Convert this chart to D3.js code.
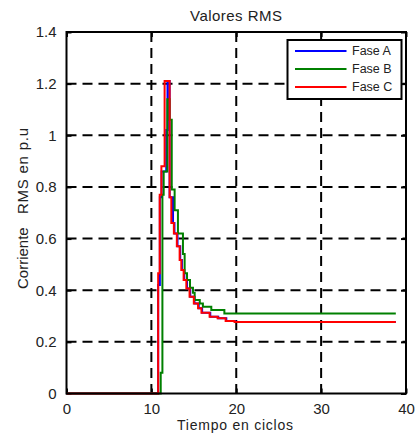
<!DOCTYPE html>
<html><head><meta charset="utf-8">
<script src="https://cdn.jsdelivr.net/npm/d3@7"></script>
<style>body{margin:0;background:#fff;} svg{display:block;} text{font-family:"Liberation Sans",Arial,sans-serif;fill:#222;}</style>
</head><body>
<svg id="chart" width="418" height="437"></svg>
<script>
// ---- data ----
const xTicks = [0, 10, 20, 30, 40];
const yTicks = [0, 0.2, 0.4, 0.6, 0.8, 1, 1.2, 1.4];
const seriesNames = ["Fase A", "Fase B", "Fase C"];
const seriesColors = ["#0000ff", "#008000", "#ff0000"];
// Fase A (blue)
const tA = [0, 10.8, 11.0, 11.2, 11.75, 11.9, 12.15, 12.55, 12.72, 13.08, 13.4, 13.6, 13.88, 14.2, 14.58, 15.08, 15.58, 15.98, 16.94, 17.88, 18.83, 19.88, 38.8];
const vA = [0, 0.42, 0.76, 0.86, 1.02, 1.21, 0.76, 0.66, 0.62, 0.57, 0.517, 0.478, 0.44, 0.407, 0.375, 0.349, 0.33, 0.313, 0.297, 0.291, 0.281, 0.277, 0.277];
// Fase B (green)
const tB = [0, 11.1, 11.3, 11.45, 11.88, 12.15, 12.4, 12.74, 13.13, 13.72, 13.92, 14.2, 14.55, 14.9, 15.1, 15.7, 16.07, 17.06, 18.6, 38.8];
const vB = [0, 0.08, 0.77, 0.86, 1.14, 1.06, 0.79, 0.71, 0.62, 0.54, 0.466, 0.44, 0.41, 0.39, 0.362, 0.349, 0.336, 0.323, 0.31, 0.31];
// Fase C (red)
const tC = [0, 10.8, 10.98, 11.18, 11.56, 12.15, 12.35, 12.65, 13.0, 13.33, 13.53, 13.8, 14.12, 14.5, 15.0, 15.5, 15.9, 16.86, 17.8, 18.75, 19.8, 38.8];
const vC = [0, 0.466, 0.77, 0.88, 1.21, 0.76, 0.66, 0.62, 0.57, 0.517, 0.478, 0.44, 0.407, 0.375, 0.349, 0.33, 0.313, 0.297, 0.291, 0.281, 0.277, 0.277];

const series = [[tA, vA], [tB, vB], [tC, vC]].map(([t, v], i) => ({
  name: seriesNames[i], color: seriesColors[i], pts: t.map((d, j) => [d, v[j]])
}));

// ---- layout ----
const L = 66.5, R = 406, T = 32, B = 393.5;
const x = d3.scaleLinear().domain([0, 40]).range([L, R]);
const y = d3.scaleLinear().domain([0, 1.4]).range([B, T]);
const svg = d3.select("#chart");

// grid
const grid = svg.append("g").attr("stroke", "#000").attr("stroke-width", 2).attr("stroke-dasharray", "10,6");
grid.selectAll(".gx").data(xTicks.slice(1, -1)).join("line")
  .attr("x1", d => x(d)).attr("x2", d => x(d)).attr("y1", T).attr("y2", B);
grid.selectAll(".gy").data(yTicks.slice(1, -1)).join("line")
  .attr("x1", L).attr("x2", R).attr("y1", d => y(d)).attr("y2", d => y(d));

// axes (ticks inside)
const tickFont = "15px";
const xAxis = svg.append("g").attr("transform", `translate(0,${B})`)
  .call(d3.axisBottom(x).tickValues(xTicks).tickSize(-5).tickPadding(10).tickFormat(d3.format("d")));
const xTop = svg.append("g").attr("transform", `translate(0,${T})`)
  .call(d3.axisTop(x).tickValues(xTicks).tickSize(-5).tickFormat(""));
const yAxis = svg.append("g").attr("transform", `translate(${L},0)`)
  .call(d3.axisLeft(y).tickValues(yTicks).tickSize(-5).tickPadding(10).tickFormat(d => d === 0 ? "0" : (d === 1 ? "1" : d3.format(".1f")(d))));
const yRight = svg.append("g").attr("transform", `translate(${R},0)`)
  .call(d3.axisRight(y).tickValues(yTicks).tickSize(-5).tickFormat(""));
[xAxis, xTop, yAxis, yRight].forEach(g => {
  g.select(".domain").remove();
  g.selectAll("line").attr("stroke", "#000").attr("stroke-width", 2);
  g.selectAll("text").style("font-size", tickFont).attr("fill", "#222")
    .style("font-family", "'Liberation Sans', Arial, sans-serif");
});

// lines
const line = d3.line().x(d => x(d[0])).y(d => y(d[1])).curve(d3.curveStepAfter);
svg.append("g").selectAll("path").data(series).join("path")
  .attr("d", d => line(d.pts)).attr("fill", "none")
  .attr("stroke", d => d.color).attr("stroke-width", 2);

// box
svg.append("rect").attr("x", L).attr("y", T).attr("width", R - L).attr("height", B - T)
  .attr("fill", "none").attr("stroke", "#000").attr("stroke-width", 2);

// legend
const lg = svg.append("g");
lg.append("rect").attr("x", 287.5).attr("y", 40).attr("width", 114).attr("height", 59)
  .attr("fill", "#fff").attr("stroke", "#000").attr("stroke-width", 2);
series.forEach((s, i) => {
  const yy = 51 + i * 18;
  lg.append("line").attr("x1", 295).attr("x2", 346.5).attr("y1", yy).attr("y2", yy)
    .attr("stroke", s.color).attr("stroke-width", 2);
  lg.append("text").attr("x", 352).attr("y", yy).attr("dy", "0.35em")
    .style("font-size", "12.5px").text(s.name);
});

// titles
svg.append("text").attr("x", 236).attr("y", 21).attr("text-anchor", "middle")
  .style("font-size", "15px").attr("textLength", 92).text("Valores RMS");
svg.append("text").attr("x", 235).attr("y", 429.5).attr("text-anchor", "middle")
  .style("font-size", "14px").attr("textLength", 116).text("Tiempo en ciclos");
const yl = svg.append("g").attr("transform", "translate(28,0) rotate(-90)");
yl.append("text").attr("x", -289).attr("y", 0).style("font-size", "15px")
  .text("Corriente");
yl.append("text").attr("x", -214).attr("y", 0).style("font-size", "15px")
  .attr("textLength", 86).text("RMS en p.u");
</script>
</body></html>
